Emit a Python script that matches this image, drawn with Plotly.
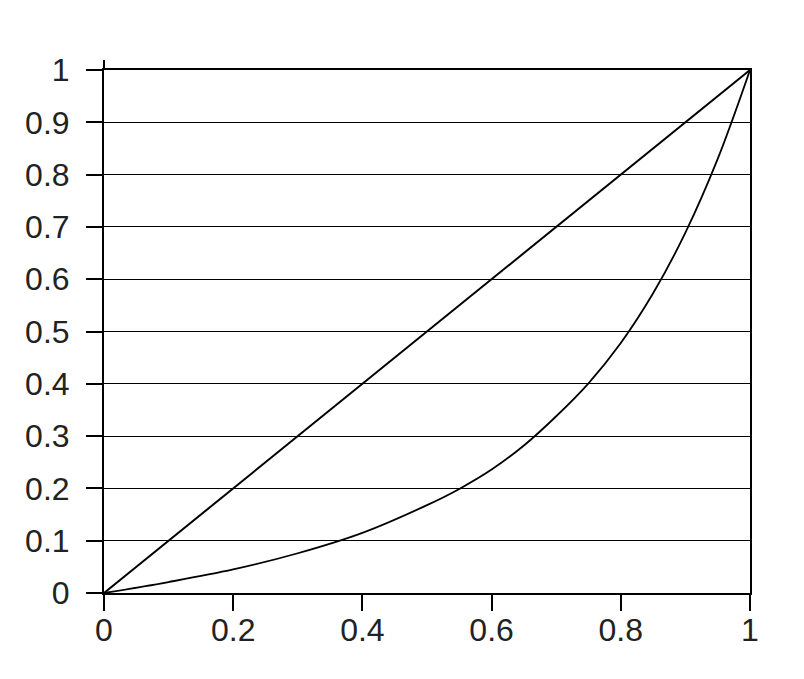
import plotly.graph_objects as go

# Data (Lorenz curve)
equality_x = [0, 1]
equality_y = [0, 1]
curve_x = [0, 0.1, 0.2, 0.3, 0.4, 0.5, 0.55, 0.6, 0.65, 0.7, 0.75, 0.8, 0.85, 0.9, 0.95, 1]
curve_y = [0, 0.021, 0.045, 0.076, 0.115, 0.168, 0.199, 0.236, 0.282, 0.338, 0.401, 0.478, 0.573, 0.689, 0.83, 1]
x_ticks = [0, 0.2, 0.4, 0.6, 0.8, 1]
x_tick_labels = ["0", "0.2", "0.4", "0.6", "0.8", "1"]
y_ticks = [0, 0.1, 0.2, 0.3, 0.4, 0.5, 0.6, 0.7, 0.8, 0.9, 1]
y_tick_labels = ["0", "0.1", "0.2", "0.3", "0.4", "0.5", "0.6", "0.7", "0.8", "0.9", "1"]

FONT = "Liberation Sans, Arial, sans-serif"

fig = go.Figure()
fig.add_trace(go.Scatter(x=equality_x, y=equality_y, mode="lines",
                         line=dict(color="black", width=2), hoverinfo="skip"))
fig.add_trace(go.Scatter(x=curve_x, y=curve_y, mode="lines",
                         line=dict(color="black", width=1.8, shape="spline", smoothing=1.0),
                         hoverinfo="skip"))

fig.update_layout(
    width=804, height=679,
    margin=dict(l=96, r=62, t=62, b=94),
    paper_bgcolor="white", plot_bgcolor="white",
    showlegend=False,
    font=dict(family=FONT, size=32, color="#222222"),
)
fig.update_xaxes(
    range=[0, 1], tickvals=x_ticks, ticktext=x_tick_labels,
    showgrid=False, zeroline=False,
    showline=True, linecolor="black", linewidth=2, mirror=True,
    ticks="outside", ticklen=16, tickwidth=2, tickcolor="black",
    ticklabelstandoff=-8,
)
fig.update_yaxes(
    range=[0, 1], tickvals=y_ticks, ticktext=y_tick_labels,
    showgrid=True, gridcolor="black", gridwidth=1.2, zeroline=False,
    showline=True, linecolor="black", linewidth=2, mirror=True,
    ticks="outside", ticklen=16, tickwidth=2, tickcolor="black",
    ticklabelstandoff=10,
)
# y-axis line extends slightly above the top border
fig.add_shape(type="line", xref="paper", yref="paper", x0=0, x1=0, y0=1, y1=1 + 10 / 523,
              line=dict(color="black", width=2))

fig.write_html("out.html")
